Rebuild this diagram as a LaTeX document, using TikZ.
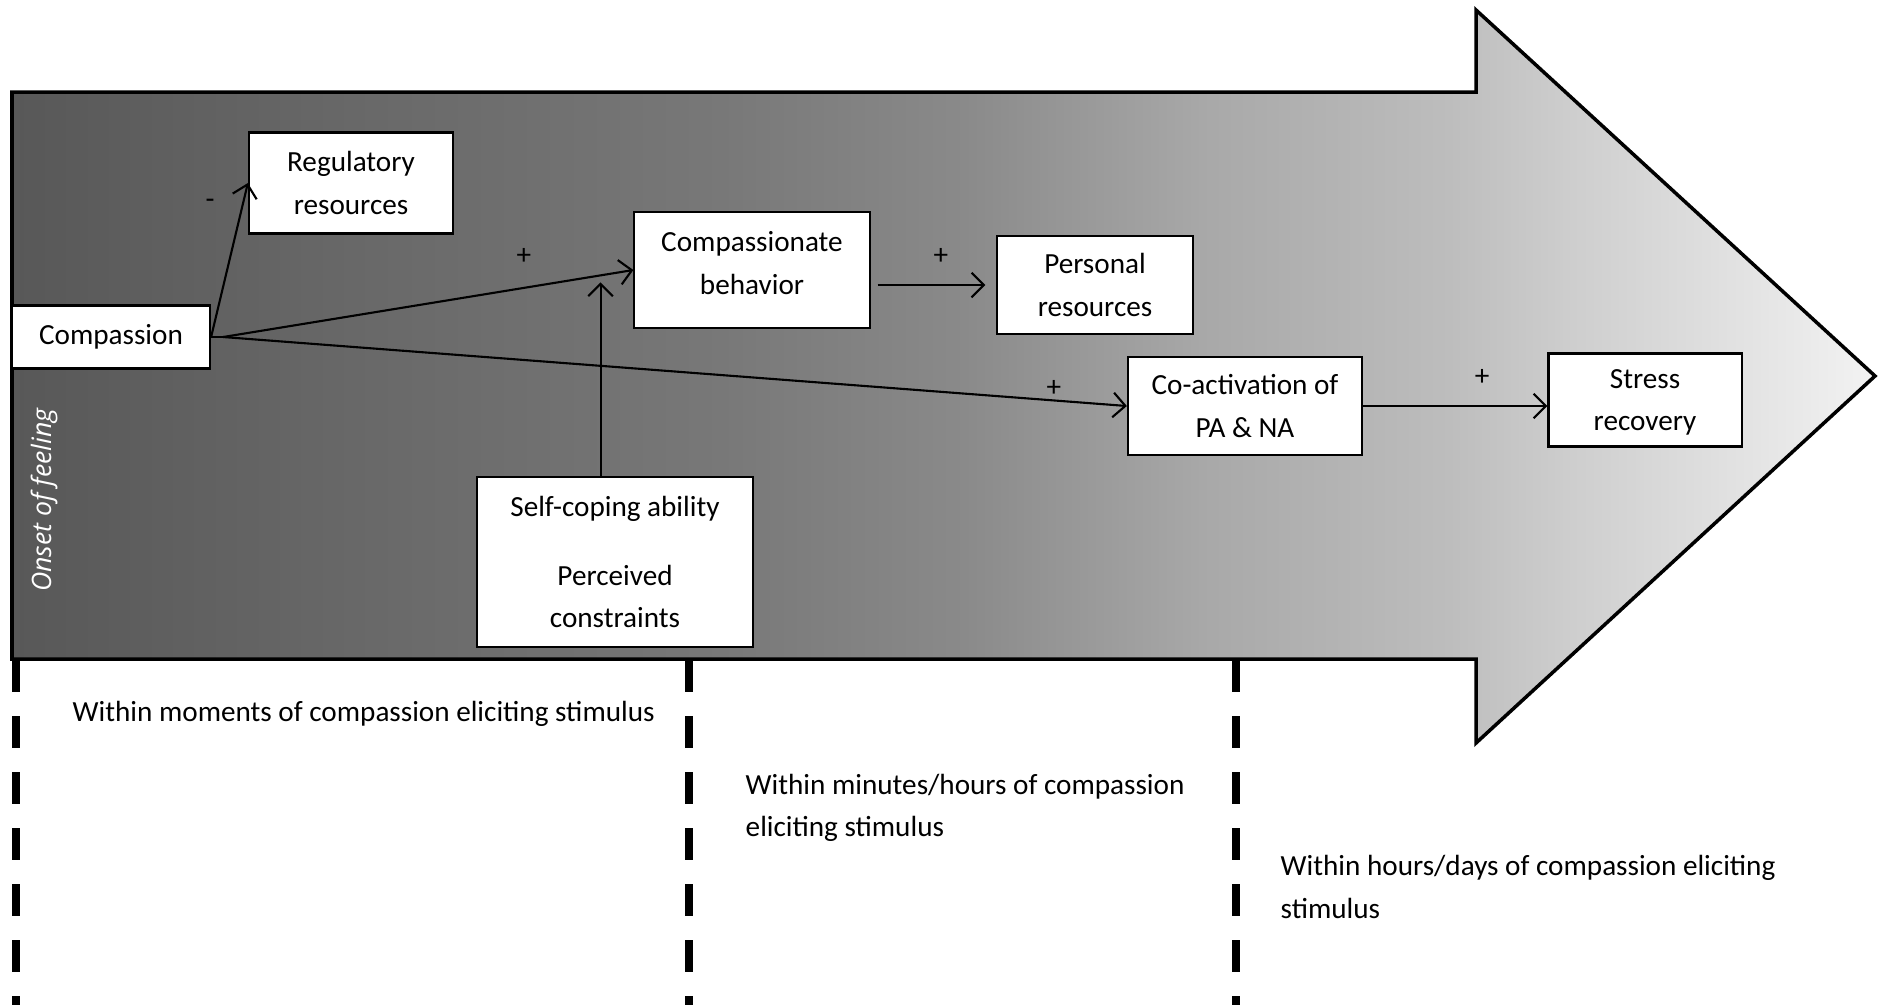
\documentclass[tikz,border=0pt]{standalone}
\usepackage{fontspec}
\setmainfont{Carlito}
\newfontfamily\onsetfont{Open Sans}
\usetikzlibrary{arrows.meta, calc}

\pgfdeclarehorizontalshading{flowshade}{100bp}{%
  rgb(0bp)=(.345,.345,.345); rgb(25bp)=(.345,.345,.345);
  rgb(34.5bp)=(.41,.41,.41); rgb(44bp)=(.47,.47,.47);
  rgb(50.5bp)=(.54,.54,.54); rgb(57bp)=(.66,.66,.66);
  rgb(63.5bp)=(.74,.74,.74); rgb(67bp)=(.81,.81,.81);
  rgb(75bp)=(.95,.95,.95); rgb(100bp)=(.95,.95,.95)}

\begin{document}
\begin{tikzpicture}[x=0.01cm, y=-0.01cm,
        box/.style={rectangle, draw, line width=0.6pt, fill=white, align=center,
          inner sep=0pt, font=\fontsize{8.3}{12}\selectfont},
        sign/.style={inner sep=0pt, font=\fontsize{8.3}{12}\selectfont},
        period/.style={anchor=west, align=left, inner sep=0pt,
          font=\fontsize{8.3}{12}\selectfont},
        link/.style={->, line width=0.6pt, >={Straight Barb[length=3.5pt,width=7pt]}},
        timeline/.style={line width=0.08cm, dash pattern=on 0.32cm off 0.24cm},
        flowarrow/.style={draw, line width=1pt, shading=flowshade}
      ]
        \useasboundingbox (0,0) rectangle (1879,1005);
        % big time arrow
        \path[flowarrow] (12,92) -- (1476,92) -- (1476,10) -- (1875,376)
          -- (1476,743) -- (1476,659) -- (12,659) -- cycle;
        \node[rotate=90, text=white, inner sep=0pt,
          font=\onsetfont\itshape\fontsize{7.6}{9}\selectfont] (onset) at (44,500) {Onset of feeling};
        % boxes
        \node[box, minimum width=1.98cm, minimum height=0.63cm] (comp) at (111,337) {Compassion};
        \node[box, minimum width=2.04cm, minimum height=1.01cm] (reg) at (351,183) {Regulatory\\resources};
        \node[box, minimum width=2.35cm, minimum height=1.16cm, text depth=0.14cm] (compbeh) at (752,270) {Compassionate\\behavior};
        \node[box, minimum width=1.96cm, minimum height=0.98cm] (pers) at (1095,285) {Personal\\resources};
        \node[box, minimum width=2.34cm, minimum height=0.98cm] (coact) at (1245,406) {Co-activation of\\PA \& NA};
        \node[box, minimum width=1.93cm, minimum height=0.93cm, text depth=0pt] (stress) at (1645,400) {Stress\\recovery};
        \node[box, minimum width=2.76cm, minimum height=1.70cm] (cope) at (615,562)
          {Self-coping ability\\[0.27cm]Perceived\\constraints};
        % links
        \coordinate (fork) at ($(comp.east)+(12,0)$);
        \coordinate (mod) at ($(fork)!0.92!(compbeh.west)$);
        \draw[link] (comp.east) -- (reg.west);
        \draw[line width=0.6pt] (comp.east) -- (fork);
        \draw[link] (fork) -- (compbeh.west);
        \draw[link] (fork) -- (coact.west);
        \draw[link] ([xshift=2pt]compbeh.east |- pers.west) -- ([xshift=-3pt]pers.west);
        \draw[link] (coact.east) -- (coact.east -| stress.west);
        \draw[link, shorten >=2pt] (cope.north -| mod) -- (mod);
        % signs
        \node[sign] (s1) at (210,204) {-};
        \node[sign] (s2) at (524,256) {+};
        \node[sign] (s3) at (941,256) {+};
        \node[sign] (s4) at (1054,388) {+};
        \node[sign] (s5) at (1482,377) {+};
        % time periods
        \foreach \x in {16,689,1236}
          \draw[timeline] (\x,660) -- (\x,1005);
        \node[period] (moments) at (72,714) {Within moments of compassion eliciting stimulus};
        \node[period] (minutes) at (745,808) {Within minutes/hours of compassion\\eliciting stimulus};
        \node[period] (days) at (1280,887) {Within hours/days of compassion eliciting\\stimulus};
      \end{tikzpicture}
\end{document}
